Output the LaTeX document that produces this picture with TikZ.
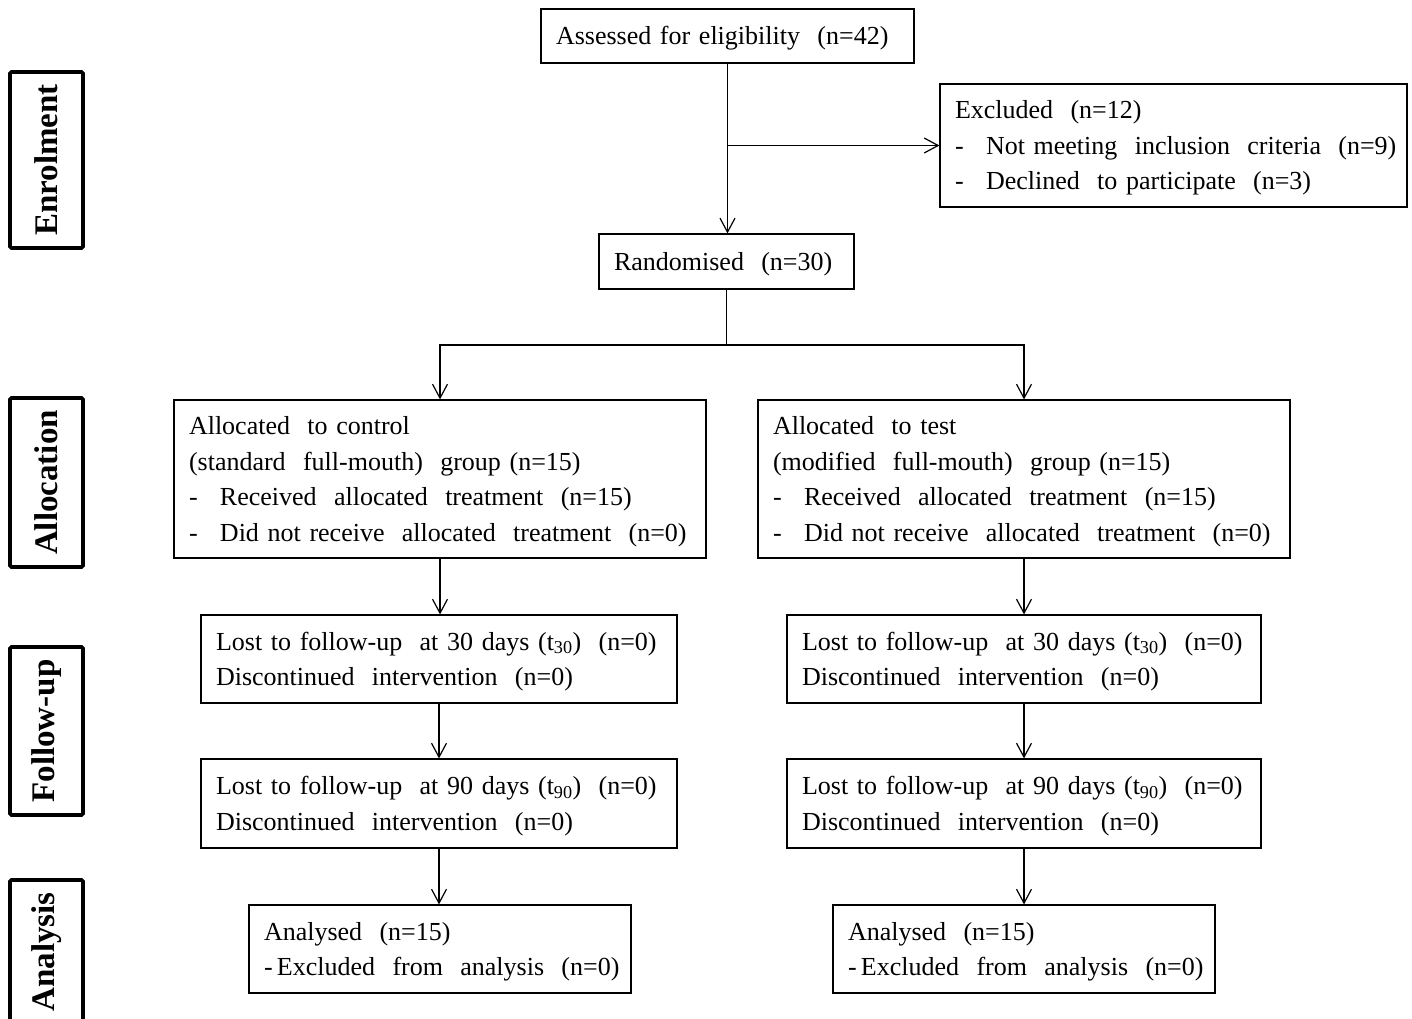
\documentclass[tikz,border=0pt]{standalone}
\usepackage{fontspec}
\setmainfont{Liberation Serif}[WordSpace=0.8]
\usetikzlibrary{arrows.meta,positioning}
\newcommand\gap{\ \ }
\newcommand\dashitem{\makebox[31pt][l]{-}}
\begin{document}
\begin{tikzpicture}[x=1pt,y=-1pt,
  flowbox/.style={draw, line width=1.2pt, rectangle, inner xsep=15pt, inner ysep=0pt,
    align=left, font=\fontsize{26}{35.5}\selectfont,
    execute at begin node={\rule{0pt}{23.5pt}}},
  sidebox/.style={draw, line width=3.6pt, rounded corners=1.5pt, rectangle, rotate=90,
    minimum height=73pt, inner sep=0pt, font=\fontsize{33}{36}\selectfont\bfseries},
  arr/.style={-{Straight Barb[length=14pt,width=15pt]}, line width=1.2pt},
  ln/.style={line width=1.2pt}]
\useasboundingbox (0,0) rectangle (1412,1018);
\fill[white] (0,0) rectangle (1412,1018);

% side labels
\node[sidebox, minimum width=176pt] (senrol) at (46.5,160) {Enrolment};
\node[sidebox, minimum width=169pt] (salloc) at (46.5,482.5) {Allocation};
\node[sidebox, minimum width=168pt] (sfollow) at (46.5,731) {Follow-up};
\node[sidebox, minimum width=144pt] (sanaly) at (46.5,952) {Analysis};

% flow boxes
\node[flowbox, text width=343pt, minimum height=54pt] (assess) at (727.5,36)
  {\mbox{Assessed for eligibility\gap(n=42)}};
\node[flowbox, text width=437pt, minimum height=123pt] (excl) at (1173.5,145.5)
  {\mbox{Excluded\gap(n=12)}\\
   \mbox{\dashitem Not meeting\gap inclusion\gap criteria\gap(n=9)}\\
   \mbox{\dashitem Declined\gap to participate\gap(n=3)}};
\node[flowbox, text width=225pt, minimum height=55pt] (rand) at (726.5,261.5)
  {\mbox{Randomised\gap(n=30)}};

\node[flowbox, text width=502pt, minimum height=158pt] (ctrl) at (440,479)
  {\mbox{Allocated\gap to control}\\
   \mbox{(standard\gap full-mouth)\gap group (n=15)}\\
   \mbox{\dashitem Received\gap allocated\gap treatment\gap(n=15)}\\
   \mbox{\dashitem Did not receive\gap allocated\gap treatment\gap(n=0)}};
\node[flowbox, text width=502pt, minimum height=158pt] (test) at (1024,479)
  {\mbox{Allocated\gap to test}\\
   \mbox{(modified\gap full-mouth)\gap group (n=15)}\\
   \mbox{\dashitem Received\gap allocated\gap treatment\gap(n=15)}\\
   \mbox{\dashitem Did not receive\gap allocated\gap treatment\gap(n=0)}};

\node[flowbox, text width=446pt, minimum height=88pt] (fuL) at (439,659)
  {\mbox{Lost to follow-up\gap at 30 days (t\textsubscript{30})\gap(n=0)}\\
   \mbox{Discontinued\gap intervention\gap(n=0)}};
\node[flowbox, text width=444pt, minimum height=88pt] (fuR) at (1024,659)
  {\mbox{Lost to follow-up\gap at 30 days (t\textsubscript{30})\gap(n=0)}\\
   \mbox{Discontinued\gap intervention\gap(n=0)}};

\node[flowbox, text width=446pt, minimum height=89pt] (fnL) at (439,803.5)
  {\mbox{Lost to follow-up\gap at 90 days (t\textsubscript{90})\gap(n=0)}\\
   \mbox{Discontinued\gap intervention\gap(n=0)}};
\node[flowbox, text width=444pt, minimum height=89pt] (fnR) at (1024,803.5)
  {\mbox{Lost to follow-up\gap at 90 days (t\textsubscript{90})\gap(n=0)}\\
   \mbox{Discontinued\gap intervention\gap(n=0)}};

\node[flowbox, text width=352pt, minimum height=88pt] (anL) at (440,949)
  {\mbox{Analysed\gap(n=15)}\\
   \mbox{-\,Excluded\gap from\gap analysis\gap(n=0)}};
\node[flowbox, text width=352pt, minimum height=88pt] (anR) at (1024,949)
  {\mbox{Analysed\gap(n=15)}\\
   \mbox{-\,Excluded\gap from\gap analysis\gap(n=0)}};

% connectors
\coordinate (branch) at (assess.south |- excl.west);
\draw[arr] (assess.south) -- (assess.south |- rand.north);
\draw[arr] (branch) -- (excl.west);
\coordinate (split) at (726.5,345);
\draw[ln] (rand.south) -- (split);
\draw[arr] (split) -| (ctrl.north);
\draw[arr] (split) -| (test.north);
\draw[arr] (ctrl.south) -- (ctrl.south |- fuL.north);
\draw[arr] (test.south) -- (test.south |- fuR.north);
\draw[arr] (fuL.south) -- (fuL.south |- fnL.north);
\draw[arr] (fuR.south) -- (fuR.south |- fnR.north);
\draw[arr] (fnL.south) -- (fnL.south |- anL.north);
\draw[arr] (fnR.south) -- (fnR.south |- anR.north);
\end{tikzpicture}
\end{document}
